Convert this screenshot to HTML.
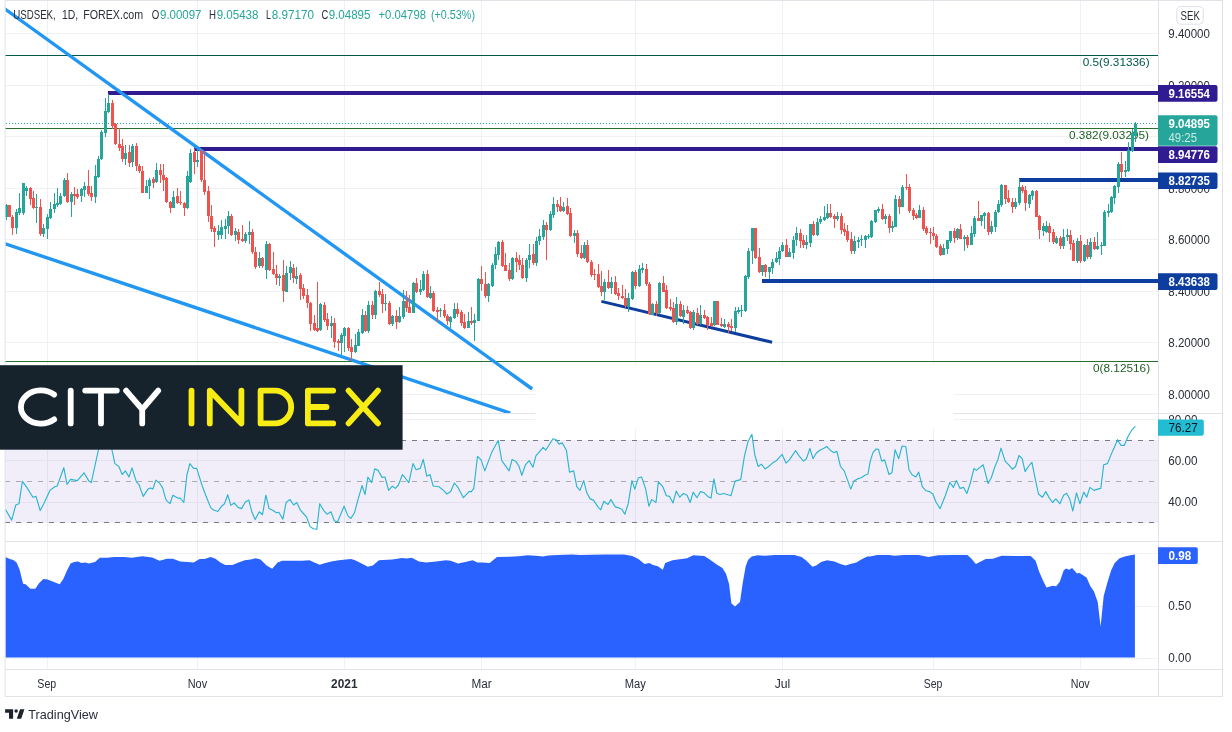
<!DOCTYPE html>
<html><head><meta charset="utf-8"><title>USDSEK</title>
<style>
html,body{margin:0;padding:0;background:#fff;}
body{width:1232px;height:732px;position:relative;overflow:hidden;font-family:"Liberation Sans",sans-serif;color:#131722;}
svg{position:absolute;left:0;top:0;will-change:transform;}
svg text{font-family:"Liberation Sans",sans-serif;}
</style></head><body>
<svg width="1232" height="732" viewBox="0 0 1232 732">
<rect x="47" y="1" width="1" height="668" fill="#f0f1f4"/>
<rect x="197" y="1" width="1" height="668" fill="#f0f1f4"/>
<rect x="344" y="1" width="1" height="668" fill="#f0f1f4"/>
<rect x="481" y="1" width="1" height="668" fill="#f0f1f4"/>
<rect x="635" y="1" width="1" height="668" fill="#f0f1f4"/>
<rect x="782" y="1" width="1" height="668" fill="#f0f1f4"/>
<rect x="933" y="1" width="1" height="668" fill="#f0f1f4"/>
<rect x="1080" y="1" width="1" height="668" fill="#f0f1f4"/>
<rect x="5" y="33" width="1153" height="1" fill="#f0f1f4"/>
<rect x="5" y="85" width="1153" height="1" fill="#f0f1f4"/>
<rect x="5" y="136" width="1153" height="1" fill="#f0f1f4"/>
<rect x="5" y="188" width="1153" height="1" fill="#f0f1f4"/>
<rect x="5" y="239" width="1153" height="1" fill="#f0f1f4"/>
<rect x="5" y="291" width="1153" height="1" fill="#f0f1f4"/>
<rect x="5" y="342" width="1153" height="1" fill="#f0f1f4"/>
<rect x="5" y="394" width="1153" height="1" fill="#f0f1f4"/>
<rect x="5" y="419" width="1153" height="1" fill="#f0f1f4"/>
<rect x="5" y="460" width="1153" height="1" fill="#f0f1f4"/>
<rect x="5" y="502" width="1153" height="1" fill="#f0f1f4"/>
<rect x="5" y="553" width="1153" height="1" fill="#f0f1f4"/>
<rect x="5" y="606" width="1153" height="1" fill="#f0f1f4"/>
<rect x="5" y="658" width="1153" height="1" fill="#f0f1f4"/>
<rect x="5" y="440" width="1153" height="83" fill="#7e57c2" fill-opacity="0.1"/>
<line x1="5" y1="440.5" x2="1158" y2="440.5" stroke="#787b86" stroke-width="1.2" stroke-dasharray="5 6"/>
<line x1="5" y1="481.5" x2="1158" y2="481.5" stroke="#a9abb3" stroke-width="1.2" stroke-dasharray="5 6"/>
<line x1="5" y1="522.5" x2="1158" y2="522.5" stroke="#787b86" stroke-width="1.2" stroke-dasharray="5 6"/>
<rect x="5" y="55" width="1153" height="1" fill="#00594a"/>
<rect x="5" y="128" width="1153" height="1" fill="#2a6e2e"/>
<rect x="5" y="361" width="1153" height="1" fill="#2a6e2e"/>
<text x="1082.7" y="65.8" font-size="11.8" fill="#00594a">0.5(9.31336)</text>
<text x="1069" y="138.6" font-size="11.8" fill="#1f5f25">0.382(9.03295)</text>
<text x="1093" y="371.9" font-size="11.8" fill="#1f5f25">0(8.12516)</text>
<line x1="6" y1="123.5" x2="1159" y2="123.5" stroke="#26a69a" stroke-width="1" stroke-dasharray="1 2"/>
<rect x="108" y="91" width="1051" height="4" fill="#311b92"/>
<rect x="194.2" y="147" width="965" height="4" fill="#311b92"/>
<rect x="1019" y="178" width="140" height="4" fill="#0d3d9e"/>
<rect x="762" y="279" width="397" height="4" fill="#0d3d9e"/>
<line x1="601.4" y1="301.4" x2="772.1" y2="342.3" stroke="#0d3d9e" stroke-width="3" stroke-linecap="butt"/>
<clipPath id="cp"><rect x="5.4" y="1" width="1153" height="412"/></clipPath>
<g clip-path="url(#cp)"><line x1="2.5" y1="7.2" x2="532.2" y2="389" stroke="#2196f3" stroke-width="3.4" stroke-linecap="butt"/>
<line x1="2" y1="242.75" x2="510.3" y2="413.1" stroke="#2196f3" stroke-width="3.4" stroke-linecap="butt"/></g>
<rect x="6" y="204" width="1" height="16" fill="#26a69a"/>
<rect x="5" y="205" width="3" height="12" fill="#26a69a"/>
<rect x="9" y="205" width="1" height="12" fill="#ef5350"/>
<rect x="8" y="205" width="3" height="12" fill="#ef5350"/>
<rect x="12" y="215" width="1" height="20" fill="#ef5350"/>
<rect x="11" y="217" width="3" height="11" fill="#ef5350"/>
<rect x="16" y="209" width="1" height="25" fill="#26a69a"/>
<rect x="15" y="212" width="3" height="16" fill="#26a69a"/>
<rect x="19" y="193" width="1" height="22" fill="#26a69a"/>
<rect x="18" y="208" width="3" height="5" fill="#26a69a"/>
<rect x="23" y="183" width="1" height="32" fill="#26a69a"/>
<rect x="22" y="183" width="3" height="30" fill="#26a69a"/>
<rect x="26" y="186" width="1" height="10" fill="#26a69a"/>
<rect x="25" y="188" width="3" height="3" fill="#26a69a"/>
<rect x="30" y="187" width="1" height="18" fill="#ef5350"/>
<rect x="29" y="188" width="3" height="11" fill="#ef5350"/>
<rect x="33" y="191" width="1" height="18" fill="#ef5350"/>
<rect x="32" y="198" width="3" height="10" fill="#ef5350"/>
<rect x="36" y="194" width="1" height="29" fill="#26a69a"/>
<rect x="35" y="207" width="3" height="1" fill="#26a69a"/>
<rect x="40" y="199" width="1" height="37" fill="#ef5350"/>
<rect x="39" y="207" width="3" height="27" fill="#ef5350"/>
<rect x="43" y="224" width="1" height="13" fill="#26a69a"/>
<rect x="42" y="228" width="3" height="6" fill="#26a69a"/>
<rect x="47" y="214" width="1" height="25" fill="#26a69a"/>
<rect x="46" y="217" width="3" height="12" fill="#26a69a"/>
<rect x="50" y="202" width="1" height="17" fill="#26a69a"/>
<rect x="49" y="209" width="3" height="9" fill="#26a69a"/>
<rect x="54" y="193" width="1" height="20" fill="#26a69a"/>
<rect x="53" y="204" width="3" height="5" fill="#26a69a"/>
<rect x="57" y="188" width="1" height="19" fill="#26a69a"/>
<rect x="56" y="203" width="3" height="2" fill="#26a69a"/>
<rect x="60" y="193" width="1" height="12" fill="#26a69a"/>
<rect x="59" y="196" width="3" height="8" fill="#26a69a"/>
<rect x="64" y="178" width="1" height="19" fill="#26a69a"/>
<rect x="63" y="180" width="3" height="16" fill="#26a69a"/>
<rect x="67" y="173" width="1" height="30" fill="#ef5350"/>
<rect x="66" y="180" width="3" height="22" fill="#ef5350"/>
<rect x="71" y="192" width="1" height="25" fill="#26a69a"/>
<rect x="70" y="194" width="3" height="8" fill="#26a69a"/>
<rect x="74" y="187" width="1" height="18" fill="#ef5350"/>
<rect x="73" y="194" width="3" height="2" fill="#ef5350"/>
<rect x="77" y="189" width="1" height="10" fill="#ef5350"/>
<rect x="76" y="194" width="3" height="3" fill="#ef5350"/>
<rect x="81" y="188" width="1" height="14" fill="#26a69a"/>
<rect x="80" y="189" width="3" height="7" fill="#26a69a"/>
<rect x="84" y="182" width="1" height="15" fill="#26a69a"/>
<rect x="83" y="186" width="3" height="4" fill="#26a69a"/>
<rect x="88" y="170" width="1" height="26" fill="#ef5350"/>
<rect x="87" y="186" width="3" height="8" fill="#ef5350"/>
<rect x="91" y="186" width="1" height="15" fill="#ef5350"/>
<rect x="90" y="193" width="3" height="4" fill="#ef5350"/>
<rect x="95" y="165" width="1" height="38" fill="#26a69a"/>
<rect x="94" y="176" width="3" height="21" fill="#26a69a"/>
<rect x="98" y="156" width="1" height="22" fill="#26a69a"/>
<rect x="97" y="159" width="3" height="18" fill="#26a69a"/>
<rect x="101" y="130" width="1" height="30" fill="#26a69a"/>
<rect x="100" y="132" width="3" height="27" fill="#26a69a"/>
<rect x="105" y="98" width="1" height="39" fill="#26a69a"/>
<rect x="104" y="111" width="3" height="22" fill="#26a69a"/>
<rect x="108" y="94" width="1" height="19" fill="#26a69a"/>
<rect x="107" y="103" width="3" height="9" fill="#26a69a"/>
<rect x="112" y="100" width="1" height="29" fill="#ef5350"/>
<rect x="111" y="103" width="3" height="23" fill="#ef5350"/>
<rect x="115" y="123" width="1" height="22" fill="#ef5350"/>
<rect x="114" y="124" width="3" height="20" fill="#ef5350"/>
<rect x="119" y="128" width="1" height="23" fill="#ef5350"/>
<rect x="118" y="144" width="3" height="4" fill="#ef5350"/>
<rect x="122" y="139" width="1" height="23" fill="#ef5350"/>
<rect x="121" y="146" width="3" height="13" fill="#ef5350"/>
<rect x="125" y="145" width="1" height="20" fill="#26a69a"/>
<rect x="124" y="153" width="3" height="6" fill="#26a69a"/>
<rect x="129" y="145" width="1" height="22" fill="#ef5350"/>
<rect x="128" y="152" width="3" height="11" fill="#ef5350"/>
<rect x="132" y="144" width="1" height="23" fill="#26a69a"/>
<rect x="131" y="146" width="3" height="16" fill="#26a69a"/>
<rect x="136" y="143" width="1" height="28" fill="#ef5350"/>
<rect x="135" y="146" width="3" height="20" fill="#ef5350"/>
<rect x="139" y="164" width="1" height="9" fill="#ef5350"/>
<rect x="138" y="166" width="3" height="5" fill="#ef5350"/>
<rect x="142" y="166" width="1" height="27" fill="#ef5350"/>
<rect x="141" y="171" width="3" height="22" fill="#ef5350"/>
<rect x="146" y="180" width="1" height="13" fill="#26a69a"/>
<rect x="145" y="186" width="3" height="7" fill="#26a69a"/>
<rect x="149" y="178" width="1" height="21" fill="#26a69a"/>
<rect x="148" y="180" width="3" height="6" fill="#26a69a"/>
<rect x="153" y="177" width="1" height="11" fill="#ef5350"/>
<rect x="152" y="179" width="3" height="4" fill="#ef5350"/>
<rect x="156" y="163" width="1" height="20" fill="#26a69a"/>
<rect x="155" y="170" width="3" height="12" fill="#26a69a"/>
<rect x="160" y="164" width="1" height="19" fill="#ef5350"/>
<rect x="159" y="170" width="3" height="5" fill="#ef5350"/>
<rect x="163" y="164" width="1" height="27" fill="#ef5350"/>
<rect x="162" y="175" width="3" height="5" fill="#ef5350"/>
<rect x="166" y="177" width="1" height="26" fill="#ef5350"/>
<rect x="165" y="178" width="3" height="24" fill="#ef5350"/>
<rect x="170" y="201" width="1" height="12" fill="#ef5350"/>
<rect x="169" y="202" width="3" height="6" fill="#ef5350"/>
<rect x="173" y="191" width="1" height="17" fill="#26a69a"/>
<rect x="172" y="197" width="3" height="11" fill="#26a69a"/>
<rect x="177" y="188" width="1" height="16" fill="#ef5350"/>
<rect x="176" y="196" width="3" height="7" fill="#ef5350"/>
<rect x="180" y="191" width="1" height="14" fill="#ef5350"/>
<rect x="179" y="202" width="3" height="1" fill="#ef5350"/>
<rect x="184" y="202" width="1" height="14" fill="#ef5350"/>
<rect x="183" y="203" width="3" height="5" fill="#ef5350"/>
<rect x="187" y="171" width="1" height="38" fill="#26a69a"/>
<rect x="186" y="176" width="3" height="32" fill="#26a69a"/>
<rect x="190" y="149" width="1" height="34" fill="#26a69a"/>
<rect x="189" y="153" width="3" height="29" fill="#26a69a"/>
<rect x="194" y="149" width="1" height="25" fill="#ef5350"/>
<rect x="193" y="152" width="3" height="10" fill="#ef5350"/>
<rect x="197" y="149" width="1" height="18" fill="#26a69a"/>
<rect x="196" y="160" width="3" height="2" fill="#26a69a"/>
<rect x="201" y="149" width="1" height="33" fill="#ef5350"/>
<rect x="200" y="151" width="3" height="29" fill="#ef5350"/>
<rect x="204" y="151" width="1" height="44" fill="#ef5350"/>
<rect x="203" y="180" width="3" height="12" fill="#ef5350"/>
<rect x="208" y="186" width="1" height="36" fill="#ef5350"/>
<rect x="207" y="191" width="3" height="25" fill="#ef5350"/>
<rect x="211" y="205" width="1" height="27" fill="#ef5350"/>
<rect x="210" y="216" width="3" height="13" fill="#ef5350"/>
<rect x="214" y="226" width="1" height="21" fill="#ef5350"/>
<rect x="213" y="228" width="3" height="4" fill="#ef5350"/>
<rect x="218" y="225" width="1" height="15" fill="#26a69a"/>
<rect x="217" y="231" width="3" height="4" fill="#26a69a"/>
<rect x="221" y="220" width="1" height="19" fill="#26a69a"/>
<rect x="220" y="227" width="3" height="8" fill="#26a69a"/>
<rect x="225" y="219" width="1" height="20" fill="#26a69a"/>
<rect x="224" y="226" width="3" height="3" fill="#26a69a"/>
<rect x="228" y="211" width="1" height="23" fill="#26a69a"/>
<rect x="227" y="216" width="3" height="10" fill="#26a69a"/>
<rect x="231" y="214" width="1" height="22" fill="#ef5350"/>
<rect x="230" y="216" width="3" height="19" fill="#ef5350"/>
<rect x="235" y="228" width="1" height="13" fill="#26a69a"/>
<rect x="234" y="231" width="3" height="4" fill="#26a69a"/>
<rect x="238" y="229" width="1" height="15" fill="#ef5350"/>
<rect x="237" y="232" width="3" height="8" fill="#ef5350"/>
<rect x="242" y="225" width="1" height="17" fill="#ef5350"/>
<rect x="241" y="239" width="3" height="2" fill="#ef5350"/>
<rect x="245" y="232" width="1" height="11" fill="#26a69a"/>
<rect x="244" y="234" width="3" height="7" fill="#26a69a"/>
<rect x="249" y="221" width="1" height="23" fill="#26a69a"/>
<rect x="248" y="232" width="3" height="3" fill="#26a69a"/>
<rect x="252" y="229" width="1" height="25" fill="#ef5350"/>
<rect x="251" y="232" width="3" height="20" fill="#ef5350"/>
<rect x="255" y="247" width="1" height="22" fill="#ef5350"/>
<rect x="254" y="252" width="3" height="15" fill="#ef5350"/>
<rect x="259" y="252" width="1" height="16" fill="#26a69a"/>
<rect x="258" y="258" width="3" height="8" fill="#26a69a"/>
<rect x="262" y="257" width="1" height="11" fill="#ef5350"/>
<rect x="261" y="258" width="3" height="8" fill="#ef5350"/>
<rect x="266" y="241" width="1" height="38" fill="#26a69a"/>
<rect x="265" y="244" width="3" height="26" fill="#26a69a"/>
<rect x="269" y="243" width="1" height="28" fill="#ef5350"/>
<rect x="268" y="244" width="3" height="26" fill="#ef5350"/>
<rect x="273" y="252" width="1" height="23" fill="#ef5350"/>
<rect x="272" y="269" width="3" height="5" fill="#ef5350"/>
<rect x="276" y="265" width="1" height="20" fill="#ef5350"/>
<rect x="275" y="274" width="3" height="4" fill="#ef5350"/>
<rect x="279" y="274" width="1" height="12" fill="#26a69a"/>
<rect x="278" y="276" width="3" height="2" fill="#26a69a"/>
<rect x="283" y="260" width="1" height="42" fill="#ef5350"/>
<rect x="282" y="275" width="3" height="16" fill="#ef5350"/>
<rect x="286" y="266" width="1" height="26" fill="#26a69a"/>
<rect x="285" y="273" width="3" height="19" fill="#26a69a"/>
<rect x="290" y="261" width="1" height="19" fill="#26a69a"/>
<rect x="289" y="267" width="3" height="6" fill="#26a69a"/>
<rect x="293" y="264" width="1" height="19" fill="#ef5350"/>
<rect x="292" y="268" width="3" height="10" fill="#ef5350"/>
<rect x="296" y="267" width="1" height="17" fill="#26a69a"/>
<rect x="295" y="276" width="3" height="3" fill="#26a69a"/>
<rect x="300" y="273" width="1" height="27" fill="#ef5350"/>
<rect x="299" y="275" width="3" height="14" fill="#ef5350"/>
<rect x="303" y="284" width="1" height="15" fill="#ef5350"/>
<rect x="302" y="288" width="3" height="8" fill="#ef5350"/>
<rect x="307" y="289" width="1" height="19" fill="#ef5350"/>
<rect x="306" y="295" width="3" height="8" fill="#ef5350"/>
<rect x="310" y="302" width="1" height="29" fill="#ef5350"/>
<rect x="309" y="303" width="3" height="21" fill="#ef5350"/>
<rect x="314" y="315" width="1" height="16" fill="#ef5350"/>
<rect x="313" y="323" width="3" height="7" fill="#ef5350"/>
<rect x="317" y="282" width="1" height="50" fill="#ef5350"/>
<rect x="316" y="328" width="3" height="3" fill="#ef5350"/>
<rect x="320" y="303" width="1" height="28" fill="#26a69a"/>
<rect x="319" y="304" width="3" height="26" fill="#26a69a"/>
<rect x="324" y="302" width="1" height="20" fill="#ef5350"/>
<rect x="323" y="305" width="3" height="15" fill="#ef5350"/>
<rect x="327" y="313" width="1" height="17" fill="#ef5350"/>
<rect x="326" y="319" width="3" height="7" fill="#ef5350"/>
<rect x="331" y="316" width="1" height="22" fill="#26a69a"/>
<rect x="330" y="323" width="3" height="3" fill="#26a69a"/>
<rect x="334" y="318" width="1" height="30" fill="#ef5350"/>
<rect x="333" y="323" width="3" height="19" fill="#ef5350"/>
<rect x="338" y="339" width="1" height="12" fill="#ef5350"/>
<rect x="337" y="341" width="3" height="2" fill="#ef5350"/>
<rect x="341" y="333" width="1" height="22" fill="#26a69a"/>
<rect x="340" y="335" width="3" height="8" fill="#26a69a"/>
<rect x="344" y="327" width="1" height="25" fill="#26a69a"/>
<rect x="343" y="328" width="3" height="8" fill="#26a69a"/>
<rect x="348" y="327" width="1" height="24" fill="#ef5350"/>
<rect x="347" y="328" width="3" height="20" fill="#ef5350"/>
<rect x="351" y="339" width="1" height="22" fill="#ef5350"/>
<rect x="350" y="347" width="3" height="5" fill="#ef5350"/>
<rect x="355" y="334" width="1" height="19" fill="#26a69a"/>
<rect x="354" y="345" width="3" height="7" fill="#26a69a"/>
<rect x="358" y="329" width="1" height="17" fill="#26a69a"/>
<rect x="357" y="332" width="3" height="14" fill="#26a69a"/>
<rect x="362" y="309" width="1" height="25" fill="#26a69a"/>
<rect x="361" y="315" width="3" height="18" fill="#26a69a"/>
<rect x="365" y="311" width="1" height="21" fill="#ef5350"/>
<rect x="364" y="315" width="3" height="16" fill="#ef5350"/>
<rect x="368" y="301" width="1" height="32" fill="#26a69a"/>
<rect x="367" y="305" width="3" height="26" fill="#26a69a"/>
<rect x="372" y="301" width="1" height="18" fill="#ef5350"/>
<rect x="371" y="305" width="3" height="10" fill="#ef5350"/>
<rect x="375" y="290" width="1" height="29" fill="#26a69a"/>
<rect x="374" y="291" width="3" height="24" fill="#26a69a"/>
<rect x="379" y="282" width="1" height="15" fill="#ef5350"/>
<rect x="378" y="291" width="3" height="4" fill="#ef5350"/>
<rect x="382" y="289" width="1" height="24" fill="#ef5350"/>
<rect x="381" y="294" width="3" height="10" fill="#ef5350"/>
<rect x="385" y="294" width="1" height="17" fill="#26a69a"/>
<rect x="384" y="303" width="3" height="1" fill="#26a69a"/>
<rect x="389" y="301" width="1" height="24" fill="#ef5350"/>
<rect x="388" y="303" width="3" height="21" fill="#ef5350"/>
<rect x="392" y="315" width="1" height="11" fill="#26a69a"/>
<rect x="391" y="316" width="3" height="8" fill="#26a69a"/>
<rect x="396" y="310" width="1" height="19" fill="#ef5350"/>
<rect x="395" y="316" width="3" height="6" fill="#ef5350"/>
<rect x="399" y="307" width="1" height="16" fill="#26a69a"/>
<rect x="398" y="316" width="3" height="6" fill="#26a69a"/>
<rect x="403" y="290" width="1" height="29" fill="#26a69a"/>
<rect x="402" y="301" width="3" height="16" fill="#26a69a"/>
<rect x="406" y="291" width="1" height="21" fill="#ef5350"/>
<rect x="405" y="301" width="3" height="7" fill="#ef5350"/>
<rect x="409" y="295" width="1" height="18" fill="#ef5350"/>
<rect x="408" y="307" width="3" height="6" fill="#ef5350"/>
<rect x="413" y="282" width="1" height="31" fill="#26a69a"/>
<rect x="412" y="283" width="3" height="30" fill="#26a69a"/>
<rect x="416" y="278" width="1" height="15" fill="#ef5350"/>
<rect x="415" y="283" width="3" height="9" fill="#ef5350"/>
<rect x="420" y="280" width="1" height="15" fill="#26a69a"/>
<rect x="419" y="289" width="3" height="3" fill="#26a69a"/>
<rect x="423" y="271" width="1" height="20" fill="#26a69a"/>
<rect x="422" y="274" width="3" height="16" fill="#26a69a"/>
<rect x="427" y="270" width="1" height="28" fill="#ef5350"/>
<rect x="426" y="274" width="3" height="23" fill="#ef5350"/>
<rect x="430" y="286" width="1" height="13" fill="#26a69a"/>
<rect x="429" y="293" width="3" height="5" fill="#26a69a"/>
<rect x="433" y="291" width="1" height="21" fill="#ef5350"/>
<rect x="432" y="293" width="3" height="18" fill="#ef5350"/>
<rect x="437" y="307" width="1" height="15" fill="#ef5350"/>
<rect x="436" y="310" width="3" height="2" fill="#ef5350"/>
<rect x="440" y="308" width="1" height="9" fill="#26a69a"/>
<rect x="439" y="310" width="3" height="1" fill="#26a69a"/>
<rect x="444" y="304" width="1" height="14" fill="#ef5350"/>
<rect x="443" y="310" width="3" height="6" fill="#ef5350"/>
<rect x="447" y="314" width="1" height="11" fill="#ef5350"/>
<rect x="446" y="316" width="3" height="5" fill="#ef5350"/>
<rect x="450" y="316" width="1" height="12" fill="#26a69a"/>
<rect x="449" y="317" width="3" height="5" fill="#26a69a"/>
<rect x="454" y="303" width="1" height="16" fill="#26a69a"/>
<rect x="453" y="309" width="3" height="9" fill="#26a69a"/>
<rect x="457" y="303" width="1" height="14" fill="#ef5350"/>
<rect x="456" y="309" width="3" height="5" fill="#ef5350"/>
<rect x="461" y="310" width="1" height="16" fill="#ef5350"/>
<rect x="460" y="312" width="3" height="11" fill="#ef5350"/>
<rect x="464" y="314" width="1" height="15" fill="#ef5350"/>
<rect x="463" y="322" width="3" height="6" fill="#ef5350"/>
<rect x="468" y="312" width="1" height="16" fill="#26a69a"/>
<rect x="467" y="321" width="3" height="7" fill="#26a69a"/>
<rect x="471" y="307" width="1" height="18" fill="#ef5350"/>
<rect x="470" y="321" width="3" height="2" fill="#ef5350"/>
<rect x="474" y="314" width="1" height="27" fill="#26a69a"/>
<rect x="473" y="320" width="3" height="3" fill="#26a69a"/>
<rect x="478" y="278" width="1" height="43" fill="#26a69a"/>
<rect x="477" y="279" width="3" height="42" fill="#26a69a"/>
<rect x="481" y="266" width="1" height="25" fill="#ef5350"/>
<rect x="480" y="279" width="3" height="5" fill="#ef5350"/>
<rect x="485" y="272" width="1" height="26" fill="#ef5350"/>
<rect x="484" y="284" width="3" height="12" fill="#ef5350"/>
<rect x="488" y="283" width="1" height="19" fill="#26a69a"/>
<rect x="487" y="284" width="3" height="12" fill="#26a69a"/>
<rect x="492" y="263" width="1" height="24" fill="#26a69a"/>
<rect x="491" y="265" width="3" height="21" fill="#26a69a"/>
<rect x="495" y="247" width="1" height="22" fill="#26a69a"/>
<rect x="494" y="254" width="3" height="11" fill="#26a69a"/>
<rect x="498" y="241" width="1" height="19" fill="#26a69a"/>
<rect x="497" y="242" width="3" height="13" fill="#26a69a"/>
<rect x="502" y="240" width="1" height="27" fill="#ef5350"/>
<rect x="501" y="242" width="3" height="24" fill="#ef5350"/>
<rect x="505" y="253" width="1" height="18" fill="#ef5350"/>
<rect x="504" y="265" width="3" height="6" fill="#ef5350"/>
<rect x="509" y="263" width="1" height="18" fill="#ef5350"/>
<rect x="508" y="270" width="3" height="9" fill="#ef5350"/>
<rect x="512" y="257" width="1" height="23" fill="#26a69a"/>
<rect x="511" y="258" width="3" height="21" fill="#26a69a"/>
<rect x="516" y="252" width="1" height="20" fill="#ef5350"/>
<rect x="515" y="258" width="3" height="4" fill="#ef5350"/>
<rect x="519" y="255" width="1" height="15" fill="#ef5350"/>
<rect x="518" y="260" width="3" height="5" fill="#ef5350"/>
<rect x="522" y="258" width="1" height="21" fill="#ef5350"/>
<rect x="521" y="265" width="3" height="13" fill="#ef5350"/>
<rect x="526" y="258" width="1" height="24" fill="#26a69a"/>
<rect x="525" y="260" width="3" height="18" fill="#26a69a"/>
<rect x="529" y="244" width="1" height="24" fill="#26a69a"/>
<rect x="528" y="255" width="3" height="5" fill="#26a69a"/>
<rect x="533" y="244" width="1" height="21" fill="#ef5350"/>
<rect x="532" y="254" width="3" height="9" fill="#ef5350"/>
<rect x="536" y="237" width="1" height="29" fill="#26a69a"/>
<rect x="535" y="241" width="3" height="22" fill="#26a69a"/>
<rect x="539" y="229" width="1" height="16" fill="#26a69a"/>
<rect x="538" y="236" width="3" height="5" fill="#26a69a"/>
<rect x="543" y="220" width="1" height="20" fill="#26a69a"/>
<rect x="542" y="225" width="3" height="12" fill="#26a69a"/>
<rect x="546" y="222" width="1" height="38" fill="#ef5350"/>
<rect x="545" y="225" width="3" height="5" fill="#ef5350"/>
<rect x="550" y="211" width="1" height="20" fill="#26a69a"/>
<rect x="549" y="214" width="3" height="16" fill="#26a69a"/>
<rect x="553" y="197" width="1" height="21" fill="#26a69a"/>
<rect x="552" y="204" width="3" height="11" fill="#26a69a"/>
<rect x="557" y="200" width="1" height="12" fill="#ef5350"/>
<rect x="556" y="204" width="3" height="3" fill="#ef5350"/>
<rect x="560" y="197" width="1" height="15" fill="#ef5350"/>
<rect x="559" y="206" width="3" height="5" fill="#ef5350"/>
<rect x="563" y="202" width="1" height="10" fill="#26a69a"/>
<rect x="562" y="207" width="3" height="4" fill="#26a69a"/>
<rect x="567" y="198" width="1" height="17" fill="#ef5350"/>
<rect x="566" y="206" width="3" height="8" fill="#ef5350"/>
<rect x="570" y="208" width="1" height="29" fill="#ef5350"/>
<rect x="569" y="213" width="3" height="23" fill="#ef5350"/>
<rect x="574" y="230" width="1" height="13" fill="#26a69a"/>
<rect x="573" y="233" width="3" height="3" fill="#26a69a"/>
<rect x="577" y="230" width="1" height="27" fill="#ef5350"/>
<rect x="576" y="233" width="3" height="21" fill="#ef5350"/>
<rect x="581" y="245" width="1" height="14" fill="#ef5350"/>
<rect x="580" y="253" width="3" height="5" fill="#ef5350"/>
<rect x="584" y="242" width="1" height="17" fill="#26a69a"/>
<rect x="583" y="245" width="3" height="13" fill="#26a69a"/>
<rect x="587" y="240" width="1" height="23" fill="#ef5350"/>
<rect x="586" y="245" width="3" height="17" fill="#ef5350"/>
<rect x="591" y="260" width="1" height="17" fill="#ef5350"/>
<rect x="590" y="262" width="3" height="13" fill="#ef5350"/>
<rect x="594" y="269" width="1" height="11" fill="#ef5350"/>
<rect x="593" y="274" width="3" height="1" fill="#ef5350"/>
<rect x="598" y="264" width="1" height="24" fill="#ef5350"/>
<rect x="597" y="274" width="3" height="13" fill="#ef5350"/>
<rect x="601" y="271" width="1" height="25" fill="#ef5350"/>
<rect x="600" y="286" width="3" height="6" fill="#ef5350"/>
<rect x="604" y="279" width="1" height="21" fill="#26a69a"/>
<rect x="603" y="282" width="3" height="10" fill="#26a69a"/>
<rect x="608" y="270" width="1" height="19" fill="#ef5350"/>
<rect x="607" y="282" width="3" height="6" fill="#ef5350"/>
<rect x="611" y="277" width="1" height="17" fill="#26a69a"/>
<rect x="610" y="282" width="3" height="6" fill="#26a69a"/>
<rect x="615" y="276" width="1" height="19" fill="#ef5350"/>
<rect x="614" y="282" width="3" height="12" fill="#ef5350"/>
<rect x="618" y="288" width="1" height="12" fill="#ef5350"/>
<rect x="617" y="293" width="3" height="3" fill="#ef5350"/>
<rect x="622" y="285" width="1" height="14" fill="#ef5350"/>
<rect x="621" y="296" width="3" height="2" fill="#ef5350"/>
<rect x="625" y="289" width="1" height="19" fill="#ef5350"/>
<rect x="624" y="298" width="3" height="8" fill="#ef5350"/>
<rect x="628" y="293" width="1" height="19" fill="#26a69a"/>
<rect x="627" y="298" width="3" height="9" fill="#26a69a"/>
<rect x="632" y="271" width="1" height="29" fill="#26a69a"/>
<rect x="631" y="272" width="3" height="27" fill="#26a69a"/>
<rect x="635" y="270" width="1" height="19" fill="#ef5350"/>
<rect x="634" y="272" width="3" height="14" fill="#ef5350"/>
<rect x="639" y="265" width="1" height="22" fill="#26a69a"/>
<rect x="638" y="269" width="3" height="17" fill="#26a69a"/>
<rect x="642" y="263" width="1" height="10" fill="#26a69a"/>
<rect x="641" y="268" width="3" height="2" fill="#26a69a"/>
<rect x="646" y="264" width="1" height="22" fill="#ef5350"/>
<rect x="645" y="269" width="3" height="15" fill="#ef5350"/>
<rect x="649" y="282" width="1" height="33" fill="#ef5350"/>
<rect x="648" y="284" width="3" height="30" fill="#ef5350"/>
<rect x="652" y="303" width="1" height="12" fill="#26a69a"/>
<rect x="651" y="304" width="3" height="11" fill="#26a69a"/>
<rect x="656" y="301" width="1" height="15" fill="#ef5350"/>
<rect x="655" y="304" width="3" height="9" fill="#ef5350"/>
<rect x="659" y="282" width="1" height="32" fill="#26a69a"/>
<rect x="658" y="283" width="3" height="30" fill="#26a69a"/>
<rect x="663" y="276" width="1" height="16" fill="#ef5350"/>
<rect x="662" y="283" width="3" height="9" fill="#ef5350"/>
<rect x="666" y="285" width="1" height="24" fill="#ef5350"/>
<rect x="665" y="290" width="3" height="18" fill="#ef5350"/>
<rect x="670" y="299" width="1" height="12" fill="#ef5350"/>
<rect x="669" y="307" width="3" height="2" fill="#ef5350"/>
<rect x="673" y="302" width="1" height="21" fill="#ef5350"/>
<rect x="672" y="308" width="3" height="14" fill="#ef5350"/>
<rect x="676" y="297" width="1" height="28" fill="#26a69a"/>
<rect x="675" y="304" width="3" height="18" fill="#26a69a"/>
<rect x="680" y="301" width="1" height="16" fill="#ef5350"/>
<rect x="679" y="304" width="3" height="12" fill="#ef5350"/>
<rect x="683" y="305" width="1" height="19" fill="#26a69a"/>
<rect x="682" y="310" width="3" height="7" fill="#26a69a"/>
<rect x="687" y="306" width="1" height="8" fill="#ef5350"/>
<rect x="686" y="310" width="3" height="3" fill="#ef5350"/>
<rect x="690" y="311" width="1" height="18" fill="#ef5350"/>
<rect x="689" y="312" width="3" height="16" fill="#ef5350"/>
<rect x="693" y="310" width="1" height="20" fill="#26a69a"/>
<rect x="692" y="312" width="3" height="16" fill="#26a69a"/>
<rect x="697" y="308" width="1" height="17" fill="#ef5350"/>
<rect x="696" y="313" width="3" height="11" fill="#ef5350"/>
<rect x="700" y="305" width="1" height="20" fill="#26a69a"/>
<rect x="699" y="315" width="3" height="9" fill="#26a69a"/>
<rect x="704" y="310" width="1" height="9" fill="#ef5350"/>
<rect x="703" y="315" width="3" height="3" fill="#ef5350"/>
<rect x="707" y="316" width="1" height="14" fill="#ef5350"/>
<rect x="706" y="317" width="3" height="8" fill="#ef5350"/>
<rect x="711" y="317" width="1" height="10" fill="#ef5350"/>
<rect x="710" y="323" width="3" height="3" fill="#ef5350"/>
<rect x="714" y="301" width="1" height="25" fill="#26a69a"/>
<rect x="713" y="301" width="3" height="24" fill="#26a69a"/>
<rect x="717" y="301" width="1" height="24" fill="#ef5350"/>
<rect x="716" y="301" width="3" height="24" fill="#ef5350"/>
<rect x="721" y="318" width="1" height="9" fill="#ef5350"/>
<rect x="720" y="324" width="3" height="2" fill="#ef5350"/>
<rect x="724" y="319" width="1" height="9" fill="#26a69a"/>
<rect x="723" y="324" width="3" height="3" fill="#26a69a"/>
<rect x="728" y="322" width="1" height="11" fill="#ef5350"/>
<rect x="727" y="324" width="3" height="3" fill="#ef5350"/>
<rect x="731" y="319" width="1" height="12" fill="#ef5350"/>
<rect x="730" y="326" width="3" height="2" fill="#ef5350"/>
<rect x="735" y="307" width="1" height="25" fill="#26a69a"/>
<rect x="734" y="311" width="3" height="17" fill="#26a69a"/>
<rect x="738" y="307" width="1" height="7" fill="#26a69a"/>
<rect x="737" y="310" width="3" height="2" fill="#26a69a"/>
<rect x="741" y="305" width="1" height="12" fill="#26a69a"/>
<rect x="740" y="310" width="3" height="1" fill="#26a69a"/>
<rect x="745" y="275" width="1" height="37" fill="#26a69a"/>
<rect x="744" y="276" width="3" height="35" fill="#26a69a"/>
<rect x="748" y="248" width="1" height="31" fill="#26a69a"/>
<rect x="747" y="251" width="3" height="26" fill="#26a69a"/>
<rect x="752" y="228" width="1" height="36" fill="#26a69a"/>
<rect x="751" y="228" width="3" height="23" fill="#26a69a"/>
<rect x="755" y="228" width="1" height="31" fill="#ef5350"/>
<rect x="754" y="228" width="3" height="30" fill="#ef5350"/>
<rect x="759" y="248" width="1" height="25" fill="#ef5350"/>
<rect x="758" y="257" width="3" height="15" fill="#ef5350"/>
<rect x="762" y="265" width="1" height="11" fill="#26a69a"/>
<rect x="761" y="265" width="3" height="7" fill="#26a69a"/>
<rect x="765" y="264" width="1" height="13" fill="#ef5350"/>
<rect x="764" y="265" width="3" height="7" fill="#ef5350"/>
<rect x="769" y="267" width="1" height="12" fill="#26a69a"/>
<rect x="768" y="267" width="3" height="5" fill="#26a69a"/>
<rect x="772" y="259" width="1" height="15" fill="#26a69a"/>
<rect x="771" y="262" width="3" height="6" fill="#26a69a"/>
<rect x="776" y="252" width="1" height="11" fill="#26a69a"/>
<rect x="775" y="258" width="3" height="4" fill="#26a69a"/>
<rect x="779" y="247" width="1" height="18" fill="#26a69a"/>
<rect x="778" y="251" width="3" height="8" fill="#26a69a"/>
<rect x="782" y="242" width="1" height="10" fill="#26a69a"/>
<rect x="781" y="245" width="3" height="6" fill="#26a69a"/>
<rect x="786" y="239" width="1" height="18" fill="#ef5350"/>
<rect x="785" y="245" width="3" height="12" fill="#ef5350"/>
<rect x="789" y="248" width="1" height="9" fill="#26a69a"/>
<rect x="788" y="252" width="3" height="5" fill="#26a69a"/>
<rect x="793" y="236" width="1" height="23" fill="#26a69a"/>
<rect x="792" y="240" width="3" height="13" fill="#26a69a"/>
<rect x="796" y="227" width="1" height="19" fill="#26a69a"/>
<rect x="795" y="233" width="3" height="7" fill="#26a69a"/>
<rect x="800" y="229" width="1" height="19" fill="#ef5350"/>
<rect x="799" y="233" width="3" height="8" fill="#ef5350"/>
<rect x="803" y="235" width="1" height="13" fill="#ef5350"/>
<rect x="802" y="240" width="3" height="5" fill="#ef5350"/>
<rect x="806" y="235" width="1" height="14" fill="#26a69a"/>
<rect x="805" y="242" width="3" height="3" fill="#26a69a"/>
<rect x="810" y="224" width="1" height="23" fill="#26a69a"/>
<rect x="809" y="224" width="3" height="19" fill="#26a69a"/>
<rect x="813" y="221" width="1" height="15" fill="#ef5350"/>
<rect x="812" y="224" width="3" height="11" fill="#ef5350"/>
<rect x="817" y="218" width="1" height="18" fill="#26a69a"/>
<rect x="816" y="222" width="3" height="13" fill="#26a69a"/>
<rect x="820" y="216" width="1" height="8" fill="#26a69a"/>
<rect x="819" y="219" width="3" height="3" fill="#26a69a"/>
<rect x="824" y="206" width="1" height="15" fill="#26a69a"/>
<rect x="823" y="217" width="3" height="3" fill="#26a69a"/>
<rect x="827" y="204" width="1" height="15" fill="#26a69a"/>
<rect x="826" y="213" width="3" height="5" fill="#26a69a"/>
<rect x="830" y="204" width="1" height="14" fill="#ef5350"/>
<rect x="829" y="213" width="3" height="4" fill="#ef5350"/>
<rect x="834" y="214" width="1" height="14" fill="#ef5350"/>
<rect x="833" y="216" width="3" height="3" fill="#ef5350"/>
<rect x="837" y="212" width="1" height="9" fill="#26a69a"/>
<rect x="836" y="216" width="3" height="3" fill="#26a69a"/>
<rect x="841" y="213" width="1" height="21" fill="#ef5350"/>
<rect x="840" y="216" width="3" height="14" fill="#ef5350"/>
<rect x="844" y="223" width="1" height="13" fill="#ef5350"/>
<rect x="843" y="229" width="3" height="3" fill="#ef5350"/>
<rect x="847" y="225" width="1" height="17" fill="#ef5350"/>
<rect x="846" y="231" width="3" height="9" fill="#ef5350"/>
<rect x="851" y="232" width="1" height="22" fill="#ef5350"/>
<rect x="850" y="239" width="3" height="12" fill="#ef5350"/>
<rect x="854" y="236" width="1" height="18" fill="#26a69a"/>
<rect x="853" y="241" width="3" height="10" fill="#26a69a"/>
<rect x="858" y="237" width="1" height="11" fill="#26a69a"/>
<rect x="857" y="240" width="3" height="2" fill="#26a69a"/>
<rect x="861" y="235" width="1" height="11" fill="#26a69a"/>
<rect x="860" y="239" width="3" height="1" fill="#26a69a"/>
<rect x="865" y="235" width="1" height="13" fill="#26a69a"/>
<rect x="864" y="236" width="3" height="4" fill="#26a69a"/>
<rect x="868" y="234" width="1" height="5" fill="#26a69a"/>
<rect x="867" y="236" width="3" height="1" fill="#26a69a"/>
<rect x="871" y="220" width="1" height="18" fill="#26a69a"/>
<rect x="870" y="221" width="3" height="16" fill="#26a69a"/>
<rect x="875" y="210" width="1" height="13" fill="#26a69a"/>
<rect x="874" y="210" width="3" height="12" fill="#26a69a"/>
<rect x="878" y="207" width="1" height="6" fill="#26a69a"/>
<rect x="877" y="209" width="3" height="2" fill="#26a69a"/>
<rect x="882" y="204" width="1" height="16" fill="#ef5350"/>
<rect x="881" y="209" width="3" height="10" fill="#ef5350"/>
<rect x="885" y="214" width="1" height="10" fill="#26a69a"/>
<rect x="884" y="216" width="3" height="3" fill="#26a69a"/>
<rect x="889" y="214" width="1" height="19" fill="#ef5350"/>
<rect x="888" y="216" width="3" height="12" fill="#ef5350"/>
<rect x="892" y="221" width="1" height="11" fill="#26a69a"/>
<rect x="891" y="226" width="3" height="2" fill="#26a69a"/>
<rect x="895" y="195" width="1" height="32" fill="#26a69a"/>
<rect x="894" y="199" width="3" height="28" fill="#26a69a"/>
<rect x="899" y="196" width="1" height="18" fill="#ef5350"/>
<rect x="898" y="199" width="3" height="8" fill="#ef5350"/>
<rect x="902" y="185" width="1" height="22" fill="#26a69a"/>
<rect x="901" y="187" width="3" height="20" fill="#26a69a"/>
<rect x="906" y="174" width="1" height="16" fill="#ef5350"/>
<rect x="905" y="187" width="3" height="1" fill="#ef5350"/>
<rect x="909" y="184" width="1" height="29" fill="#ef5350"/>
<rect x="908" y="187" width="3" height="24" fill="#ef5350"/>
<rect x="913" y="208" width="1" height="12" fill="#ef5350"/>
<rect x="912" y="210" width="3" height="6" fill="#ef5350"/>
<rect x="916" y="213" width="1" height="6" fill="#ef5350"/>
<rect x="915" y="215" width="3" height="3" fill="#ef5350"/>
<rect x="919" y="205" width="1" height="13" fill="#26a69a"/>
<rect x="918" y="210" width="3" height="8" fill="#26a69a"/>
<rect x="923" y="207" width="1" height="24" fill="#ef5350"/>
<rect x="922" y="210" width="3" height="19" fill="#ef5350"/>
<rect x="926" y="226" width="1" height="9" fill="#ef5350"/>
<rect x="925" y="228" width="3" height="5" fill="#ef5350"/>
<rect x="930" y="228" width="1" height="16" fill="#ef5350"/>
<rect x="929" y="232" width="3" height="1" fill="#ef5350"/>
<rect x="933" y="227" width="1" height="13" fill="#ef5350"/>
<rect x="932" y="233" width="3" height="3" fill="#ef5350"/>
<rect x="936" y="234" width="1" height="14" fill="#ef5350"/>
<rect x="935" y="236" width="3" height="11" fill="#ef5350"/>
<rect x="940" y="244" width="1" height="12" fill="#ef5350"/>
<rect x="939" y="246" width="3" height="9" fill="#ef5350"/>
<rect x="943" y="244" width="1" height="11" fill="#26a69a"/>
<rect x="942" y="248" width="3" height="7" fill="#26a69a"/>
<rect x="947" y="240" width="1" height="14" fill="#26a69a"/>
<rect x="946" y="240" width="3" height="9" fill="#26a69a"/>
<rect x="950" y="231" width="1" height="12" fill="#26a69a"/>
<rect x="949" y="231" width="3" height="10" fill="#26a69a"/>
<rect x="954" y="228" width="1" height="15" fill="#ef5350"/>
<rect x="953" y="231" width="3" height="7" fill="#ef5350"/>
<rect x="957" y="228" width="1" height="12" fill="#26a69a"/>
<rect x="956" y="229" width="3" height="9" fill="#26a69a"/>
<rect x="960" y="224" width="1" height="15" fill="#ef5350"/>
<rect x="959" y="229" width="3" height="10" fill="#ef5350"/>
<rect x="964" y="235" width="1" height="16" fill="#26a69a"/>
<rect x="963" y="237" width="3" height="2" fill="#26a69a"/>
<rect x="967" y="235" width="1" height="13" fill="#ef5350"/>
<rect x="966" y="237" width="3" height="8" fill="#ef5350"/>
<rect x="971" y="226" width="1" height="19" fill="#26a69a"/>
<rect x="970" y="233" width="3" height="12" fill="#26a69a"/>
<rect x="974" y="216" width="1" height="21" fill="#26a69a"/>
<rect x="973" y="218" width="3" height="16" fill="#26a69a"/>
<rect x="978" y="201" width="1" height="20" fill="#ef5350"/>
<rect x="977" y="218" width="3" height="3" fill="#ef5350"/>
<rect x="981" y="215" width="1" height="11" fill="#26a69a"/>
<rect x="980" y="215" width="3" height="6" fill="#26a69a"/>
<rect x="984" y="212" width="1" height="17" fill="#26a69a"/>
<rect x="983" y="213" width="3" height="3" fill="#26a69a"/>
<rect x="988" y="212" width="1" height="23" fill="#ef5350"/>
<rect x="987" y="213" width="3" height="19" fill="#ef5350"/>
<rect x="991" y="221" width="1" height="13" fill="#26a69a"/>
<rect x="990" y="226" width="3" height="6" fill="#26a69a"/>
<rect x="995" y="210" width="1" height="22" fill="#26a69a"/>
<rect x="994" y="212" width="3" height="15" fill="#26a69a"/>
<rect x="998" y="200" width="1" height="13" fill="#26a69a"/>
<rect x="997" y="204" width="3" height="8" fill="#26a69a"/>
<rect x="1001" y="184" width="1" height="23" fill="#26a69a"/>
<rect x="1000" y="185" width="3" height="20" fill="#26a69a"/>
<rect x="1005" y="185" width="1" height="19" fill="#ef5350"/>
<rect x="1004" y="185" width="3" height="14" fill="#ef5350"/>
<rect x="1008" y="190" width="1" height="13" fill="#ef5350"/>
<rect x="1007" y="198" width="3" height="4" fill="#ef5350"/>
<rect x="1012" y="198" width="1" height="15" fill="#ef5350"/>
<rect x="1011" y="202" width="3" height="5" fill="#ef5350"/>
<rect x="1015" y="198" width="1" height="11" fill="#26a69a"/>
<rect x="1014" y="202" width="3" height="5" fill="#26a69a"/>
<rect x="1019" y="179" width="1" height="26" fill="#26a69a"/>
<rect x="1018" y="187" width="3" height="16" fill="#26a69a"/>
<rect x="1022" y="185" width="1" height="8" fill="#ef5350"/>
<rect x="1021" y="187" width="3" height="4" fill="#ef5350"/>
<rect x="1025" y="186" width="1" height="25" fill="#ef5350"/>
<rect x="1024" y="190" width="3" height="13" fill="#ef5350"/>
<rect x="1029" y="194" width="1" height="14" fill="#26a69a"/>
<rect x="1028" y="195" width="3" height="9" fill="#26a69a"/>
<rect x="1032" y="190" width="1" height="10" fill="#26a69a"/>
<rect x="1031" y="191" width="3" height="5" fill="#26a69a"/>
<rect x="1036" y="190" width="1" height="27" fill="#ef5350"/>
<rect x="1035" y="191" width="3" height="26" fill="#ef5350"/>
<rect x="1039" y="215" width="1" height="24" fill="#ef5350"/>
<rect x="1038" y="216" width="3" height="14" fill="#ef5350"/>
<rect x="1043" y="223" width="1" height="13" fill="#26a69a"/>
<rect x="1042" y="226" width="3" height="5" fill="#26a69a"/>
<rect x="1046" y="221" width="1" height="12" fill="#26a69a"/>
<rect x="1045" y="226" width="3" height="6" fill="#26a69a"/>
<rect x="1049" y="223" width="1" height="19" fill="#ef5350"/>
<rect x="1048" y="226" width="3" height="7" fill="#ef5350"/>
<rect x="1053" y="229" width="1" height="15" fill="#ef5350"/>
<rect x="1052" y="232" width="3" height="10" fill="#ef5350"/>
<rect x="1056" y="236" width="1" height="8" fill="#26a69a"/>
<rect x="1055" y="238" width="3" height="5" fill="#26a69a"/>
<rect x="1060" y="236" width="1" height="13" fill="#ef5350"/>
<rect x="1059" y="238" width="3" height="8" fill="#ef5350"/>
<rect x="1063" y="229" width="1" height="20" fill="#26a69a"/>
<rect x="1062" y="237" width="3" height="9" fill="#26a69a"/>
<rect x="1067" y="229" width="1" height="12" fill="#26a69a"/>
<rect x="1066" y="235" width="3" height="2" fill="#26a69a"/>
<rect x="1070" y="230" width="1" height="20" fill="#ef5350"/>
<rect x="1069" y="235" width="3" height="9" fill="#ef5350"/>
<rect x="1073" y="240" width="1" height="21" fill="#ef5350"/>
<rect x="1072" y="243" width="3" height="18" fill="#ef5350"/>
<rect x="1077" y="238" width="1" height="25" fill="#26a69a"/>
<rect x="1076" y="241" width="3" height="20" fill="#26a69a"/>
<rect x="1080" y="235" width="1" height="28" fill="#ef5350"/>
<rect x="1079" y="241" width="3" height="20" fill="#ef5350"/>
<rect x="1084" y="244" width="1" height="18" fill="#26a69a"/>
<rect x="1083" y="245" width="3" height="16" fill="#26a69a"/>
<rect x="1087" y="239" width="1" height="20" fill="#ef5350"/>
<rect x="1086" y="245" width="3" height="12" fill="#ef5350"/>
<rect x="1090" y="238" width="1" height="21" fill="#26a69a"/>
<rect x="1089" y="242" width="3" height="15" fill="#26a69a"/>
<rect x="1094" y="237" width="1" height="13" fill="#ef5350"/>
<rect x="1093" y="242" width="3" height="7" fill="#ef5350"/>
<rect x="1097" y="232" width="1" height="18" fill="#26a69a"/>
<rect x="1096" y="246" width="3" height="3" fill="#26a69a"/>
<rect x="1101" y="242" width="1" height="13" fill="#26a69a"/>
<rect x="1100" y="245" width="3" height="1" fill="#26a69a"/>
<rect x="1104" y="210" width="1" height="36" fill="#26a69a"/>
<rect x="1103" y="212" width="3" height="34" fill="#26a69a"/>
<rect x="1108" y="204" width="1" height="13" fill="#26a69a"/>
<rect x="1107" y="211" width="3" height="2" fill="#26a69a"/>
<rect x="1111" y="196" width="1" height="17" fill="#26a69a"/>
<rect x="1110" y="197" width="3" height="15" fill="#26a69a"/>
<rect x="1114" y="185" width="1" height="19" fill="#26a69a"/>
<rect x="1113" y="186" width="3" height="12" fill="#26a69a"/>
<rect x="1118" y="162" width="1" height="31" fill="#26a69a"/>
<rect x="1117" y="164" width="3" height="23" fill="#26a69a"/>
<rect x="1121" y="152" width="1" height="26" fill="#ef5350"/>
<rect x="1120" y="164" width="3" height="8" fill="#ef5350"/>
<rect x="1125" y="161" width="1" height="16" fill="#26a69a"/>
<rect x="1124" y="170" width="3" height="2" fill="#26a69a"/>
<rect x="1128" y="142" width="1" height="30" fill="#26a69a"/>
<rect x="1127" y="150" width="3" height="21" fill="#26a69a"/>
<rect x="1132" y="129" width="1" height="23" fill="#26a69a"/>
<rect x="1131" y="133" width="3" height="18" fill="#26a69a"/>
<rect x="1135" y="122" width="1" height="20" fill="#26a69a"/>
<rect x="1134" y="124" width="3" height="12" fill="#26a69a"/>
<polyline points="5.4,509.3 11.7,520.1 15.8,505.0 19.0,503.7 22.4,481.3 26.8,487.4 32.9,497.2 36.0,496.4 40.2,510.6 43.8,503.7 49.9,490.4 54.8,486.7 57.2,486.0 63.8,467.7 67.0,484.3 70.6,479.4 77.4,480.6 84.0,472.8 88.9,481.1 91.3,482.6 98.6,449.0 102.3,434.3 107.1,433.1 112.0,450.2 114.9,463.6 118.8,466.5 122.2,474.5 125.4,470.9 129.0,477.0 132.0,467.9 136.4,481.8 138.8,484.3 143.2,496.4 148.0,489.1 150.5,487.9 152.9,489.1 155.8,480.1 159.5,483.0 162.6,487.9 166.1,500.1 170.0,503.7 172.9,495.2 177.7,498.1 180.2,498.1 183.8,502.5 187.0,474.5 189.9,463.6 193.6,468.4 196.7,468.4 202.1,485.5 205.7,495.2 210.6,507.4 213.1,509.8 217.9,511.5 221.6,506.2 224.5,503.7 227.7,494.7 230.8,505.4 234.2,503.0 238.1,507.4 241.5,508.6 245.4,502.0 248.8,500.1 252.0,512.3 255.2,519.6 259.3,511.8 262.5,514.7 265.9,495.2 269.1,508.6 272.7,510.3 276.4,512.8 278.8,512.3 282.9,519.1 286.1,502.5 289.7,499.6 290.0,499.6 293.7,505.0 296.8,502.5 300.2,509.8 303.4,513.5 306.6,517.1 310.0,526.4 313.1,528.8 316.8,529.3 319.7,503.7 323.6,510.3 327.0,514.2 330.9,511.8 334.3,520.8 337.5,522.0 344.1,506.2 347.9,515.9 350.9,518.4 354.5,512.8 358.2,498.9 362.1,485.5 365.0,494.7 367.9,477.0 371.6,482.6 374.7,468.9 378.1,470.4 382.0,477.4 385.0,477.0 388.6,490.4 392.3,486.2 395.4,488.4 398.4,485.0 402.5,474.5 408.8,482.6 413.0,463.6 416.1,469.7 420.3,468.4 423.2,459.4 426.8,476.2 430.0,474.5 433.2,486.0 439.0,486.7 443.4,490.4 447.0,494.0 450.7,491.6 454.4,483.0 458.0,487.4 463.4,497.7 469.0,491.6 471.4,491.6 473.8,488.4 477.5,456.3 481.1,459.9 484.8,470.9 491.6,452.6 498.2,440.4 501.8,460.6 509.1,470.9 512.1,459.4 516.0,461.6 518.9,466.0 521.8,475.3 525.5,464.8 529.1,460.6 533.0,467.2 535.9,455.8 543.2,447.3 545.7,450.2 553.0,438.7 555.9,439.7 559.1,444.1 562.2,442.9 566.4,450.2 569.5,472.1 573.7,470.9 576.8,486.7 580.0,490.4 583.7,480.6 586.8,492.8 590.2,498.9 593.4,500.1 598.3,507.4 600.7,509.8 603.9,501.3 608.0,504.5 610.9,499.6 615.3,506.9 619.0,507.9 621.9,509.3 624.8,514.2 628.2,503.7 631.9,480.6 634.8,489.1 638.4,477.7 641.6,477.0 645.7,489.1 648.9,506.2 651.8,499.6 656.0,502.5 658.4,481.8 662.8,486.7 666.4,495.7 669.6,496.4 673.0,503.0 676.2,491.1 679.8,497.2 683.5,493.5 687.1,495.2 690.1,502.5 693.2,492.1 696.9,497.7 700.5,491.6 704.2,492.8 707.8,496.4 711.0,498.1 713.9,478.9 716.8,493.3 720.0,494.5 723.7,493.5 727.3,494.5 731.0,495.7 735.1,481.1 740.7,479.6 744.4,456.3 748.0,441.7 751.9,434.3 754.8,455.0 758.2,466.5 761.4,464.1 765.0,468.9 768.7,466.5 772.4,463.1 776.0,461.1 782.1,454.3 786.0,463.1 789.4,459.9 795.5,450.7 799.1,455.8 803.5,461.1 806.4,458.7 809.9,448.5 813.0,458.7 816.2,453.3 819.8,450.2 823.5,448.5 826.7,446.5 830.3,450.2 833.7,452.6 836.9,451.4 840.5,466.5 844.2,470.9 850.8,489.1 853.9,481.1 857.6,478.9 861.2,477.7 864.9,475.3 868.0,474.0 870.0,462.3 872.9,452.6 876.1,449.0 878.5,449.4 881.7,461.1 884.6,459.9 889.0,474.5 891.9,472.8 895.1,449.7 898.7,458.7 902.1,446.0 905.8,446.5 909.0,469.7 911.9,474.5 915.8,477.0 918.7,472.1 922.3,486.7 926.0,490.8 929.7,491.6 932.8,494.0 936.2,502.5 940.1,508.6 945.5,495.2 949.9,482.3 953.3,487.4 956.4,480.6 960.1,488.4 963.7,487.4 966.9,493.5 970.3,483.0 974.0,468.4 976.4,470.4 983.2,464.8 988.1,483.5 991.3,477.7 994.7,467.2 997.8,459.9 1001.0,448.2 1005.1,461.1 1008.8,464.8 1012.4,469.2 1015.6,466.5 1019.0,455.5 1022.2,458.7 1025.1,471.6 1028.3,466.5 1031.9,462.3 1035.6,480.6 1038.5,494.0 1042.4,497.2 1045.8,491.6 1049.4,498.1 1052.6,502.5 1055.8,498.9 1059.9,503.7 1063.6,495.2 1066.7,493.3 1069.7,498.9 1072.8,511.0 1076.5,492.8 1079.9,503.7 1083.8,492.1 1086.7,497.2 1089.9,487.4 1094.0,490.4 1097.7,489.1 1100.8,488.4 1103.7,464.8 1107.4,463.6 1111.1,454.6 1114.2,447.7 1117.6,439.7 1120.8,445.3 1124.4,445.3 1128.1,436.3 1131.7,430.2 1135.4,426.3" fill="none" stroke="#2bb5d2" stroke-width="1.15" stroke-linejoin="round"/>
<polygon points="5.4,657.4 5.4,557.0 9.7,559.0 13.4,560.0 16.6,562.4 19.5,569.2 23.1,583.8 25.6,584.3 30.4,588.7 35.3,588.7 39.0,583.3 43.3,579.0 47.5,579.4 59.7,584.3 63.3,579.0 67.0,570.4 70.6,563.6 74.3,561.9 77.9,561.4 81.6,563.1 85.2,562.6 88.9,563.6 95.0,561.9 99.8,557.8 107.1,557.8 114.4,557.0 124.2,557.0 131.5,557.8 142.4,556.3 152.2,557.5 159.5,560.7 166.8,558.7 172.9,558.7 180.2,561.4 187.5,561.9 193.6,562.4 199.7,559.0 204.5,559.0 210.6,557.0 215.5,558.7 220.4,562.4 225.2,565.1 232.5,565.1 238.6,562.4 244.7,560.2 250.8,559.5 255.7,558.3 260.5,559.5 266.6,565.6 272.2,568.7 277.6,562.4 282.4,560.7 290.0,560.7 302.2,560.7 309.5,560.2 314.3,562.6 319.7,564.8 325.3,563.1 331.4,561.4 338.7,560.2 346.0,559.5 350.9,559.0 354.5,560.0 360.6,563.1 367.9,566.8 372.8,565.6 378.9,560.2 392.3,559.5 402.0,558.0 406.9,558.5 411.7,557.8 419.0,561.4 426.4,562.4 436.1,561.4 445.8,560.2 450.7,560.7 458.0,563.6 465.3,561.9 472.6,560.2 477.5,562.4 482.4,562.4 489.7,563.1 497.0,557.0 509.1,556.8 518.9,556.3 527.4,555.3 535.9,555.8 543.2,556.6 548.1,555.6 557.8,554.9 572.4,554.4 580.0,554.9 604.3,554.6 623.8,554.6 632.3,556.1 638.4,559.0 644.5,563.9 649.4,563.1 653.0,565.1 657.9,566.3 662.8,569.7 665.2,563.1 672.5,560.2 687.1,558.3 693.2,555.3 704.2,556.1 709.0,559.0 716.4,564.3 722.4,568.0 726.1,574.1 729.0,583.8 731.4,603.3 734.9,606.5 740.0,602.1 742.6,583.8 745.6,566.8 748.0,560.0 751.7,556.6 757.7,555.3 765.0,555.8 774.8,554.9 794.3,555.1 801.6,557.0 806.4,560.7 812.5,566.8 816.2,565.6 821.1,561.9 827.1,560.2 834.4,561.4 840.5,563.9 845.4,565.6 850.3,563.9 856.4,562.4 861.2,559.5 867.3,556.6 870.0,556.6 877.3,555.1 889.5,554.9 894.3,555.8 904.1,555.1 918.7,555.1 928.4,557.0 938.2,555.3 952.8,555.1 967.4,555.1 971.0,558.3 975.9,563.9 980.8,561.4 985.7,559.0 993.0,558.7 1001.5,555.8 1016.1,556.1 1030.7,556.1 1035.6,560.7 1039.2,571.7 1042.9,580.2 1046.5,587.5 1052.6,585.8 1056.3,586.3 1059.9,581.4 1063.6,570.4 1066.0,568.5 1069.2,569.7 1072.1,568.0 1077.0,573.4 1079.4,572.9 1083.1,575.3 1086.7,577.7 1090.4,586.3 1094.0,591.6 1097.7,602.1 1100.6,626.4 1103.7,596.0 1107.4,582.6 1111.1,570.4 1114.7,563.1 1119.6,558.3 1125.7,556.3 1131.7,555.1 1134.9,554.6 1134.9,657.4" fill="#2962ff"/>
<text x="37.3" y="687.5" font-size="12" fill="#2a2e39" textLength="18.9" lengthAdjust="spacingAndGlyphs">Sep</text>
<text x="187.7" y="687.5" font-size="12" fill="#2a2e39" textLength="19.4" lengthAdjust="spacingAndGlyphs">Nov</text>
<text x="331.1" y="687.5" font-size="12" fill="#2a2e39" textLength="26.4" lengthAdjust="spacingAndGlyphs" font-weight="bold">2021</text>
<text x="471.4" y="687.5" font-size="12" fill="#2a2e39" textLength="20.2" lengthAdjust="spacingAndGlyphs">Mar</text>
<text x="624.7" y="687.5" font-size="12" fill="#2a2e39" textLength="21.1" lengthAdjust="spacingAndGlyphs">May</text>
<text x="774.7" y="687.5" font-size="12" fill="#2a2e39" textLength="15.6" lengthAdjust="spacingAndGlyphs">Jul</text>
<text x="923.8" y="687.5" font-size="12" fill="#2a2e39" textLength="18.6" lengthAdjust="spacingAndGlyphs">Sep</text>
<text x="1070.7" y="687.5" font-size="12" fill="#2a2e39" textLength="19" lengthAdjust="spacingAndGlyphs">Nov</text>
<rect x="5" y="413" width="1217" height="1" fill="#e2e3e9"/>
<rect x="5" y="541" width="1217" height="1" fill="#e2e3e9"/>
<rect x="5" y="669" width="1217" height="1" fill="#e2e3e9"/>
<rect x="5" y="696" width="1218" height="1" fill="#e2e3e9"/>
<rect x="5" y="0" width="1218" height="1" fill="#e2e3e9"/>
<rect x="4.6" y="0" width="1" height="697" fill="#e2e3e9"/>
<rect x="1158" y="0" width="1" height="697" fill="#e2e3e9"/>
<rect x="1222" y="0" width="1" height="697" fill="#e2e3e9"/>
<rect x="535.5" y="365" width="418" height="63.5" fill="#ffffff"/>
<text x="1168.3" y="37.599999999999994" font-size="12" fill="#2a2e39" textLength="41.6" lengthAdjust="spacingAndGlyphs">9.40000</text>
<text x="1168.3" y="89.6" font-size="12" fill="#2a2e39" textLength="41.6" lengthAdjust="spacingAndGlyphs">9.20000</text>
<text x="1168.3" y="192.60000000000002" font-size="12" fill="#2a2e39" textLength="41.6" lengthAdjust="spacingAndGlyphs">8.80000</text>
<text x="1168.3" y="243.60000000000002" font-size="12" fill="#2a2e39" textLength="41.6" lengthAdjust="spacingAndGlyphs">8.60000</text>
<text x="1168.3" y="295.6" font-size="12" fill="#2a2e39" textLength="41.6" lengthAdjust="spacingAndGlyphs">8.40000</text>
<text x="1168.3" y="346.6" font-size="12" fill="#2a2e39" textLength="41.6" lengthAdjust="spacingAndGlyphs">8.20000</text>
<text x="1168.3" y="398.6" font-size="12" fill="#2a2e39" textLength="41.6" lengthAdjust="spacingAndGlyphs">8.00000</text>
<text x="1168.3" y="423.90000000000003" font-size="12" fill="#2a2e39" textLength="29.3" lengthAdjust="spacingAndGlyphs">80.00</text>
<text x="1168.3" y="465.1" font-size="12" fill="#2a2e39" textLength="29.3" lengthAdjust="spacingAndGlyphs">60.00</text>
<text x="1168.3" y="506.0" font-size="12" fill="#2a2e39" textLength="29.3" lengthAdjust="spacingAndGlyphs">40.00</text>
<text x="1168.3" y="610.1999999999999" font-size="12" fill="#2a2e39" textLength="22.9" lengthAdjust="spacingAndGlyphs">0.50</text>
<text x="1168.3" y="661.8" font-size="12" fill="#2a2e39" textLength="22.9" lengthAdjust="spacingAndGlyphs">0.00</text>
<path d="M1158 85 H1215.5 a2 2 0 0 1 2 2 V99.8 a2 2 0 0 1 -2 2 H1158 Z" fill="#311b92"/>
<text x="1168.5" y="97.6" font-size="12" fill="#fff" font-weight="bold" textLength="41.5" lengthAdjust="spacingAndGlyphs">9.16554</text>
<path d="M1158 115.3 H1215.5 a2 2 0 0 1 2 2 V143.8 a2 2 0 0 1 -2 2 H1158 Z" fill="#26a69a"/>
<text x="1168.5" y="127.6" font-size="12" fill="#fff" font-weight="bold" textLength="41.5" lengthAdjust="spacingAndGlyphs">9.04895</text>
<text x="1168.5" y="141.7" font-size="12" fill="#c9e9e5" textLength="28.5" lengthAdjust="spacingAndGlyphs">49:25</text>
<path d="M1158 146.3 H1215.5 a2 2 0 0 1 2 2 V160.9 a2 2 0 0 1 -2 2 H1158 Z" fill="#311b92"/>
<text x="1168.5" y="158.8" font-size="12" fill="#fff" font-weight="bold" textLength="41.5" lengthAdjust="spacingAndGlyphs">8.94776</text>
<path d="M1158 172.4 H1215.5 a2 2 0 0 1 2 2 V187.0 a2 2 0 0 1 -2 2 H1158 Z" fill="#0d3d9e"/>
<text x="1168.5" y="184.9" font-size="12" fill="#fff" font-weight="bold" textLength="41.5" lengthAdjust="spacingAndGlyphs">8.82735</text>
<path d="M1158 273.3 H1215.5 a2 2 0 0 1 2 2 V287.90000000000003 a2 2 0 0 1 -2 2 H1158 Z" fill="#0d3d9e"/>
<text x="1168.5" y="285.8" font-size="12" fill="#fff" font-weight="bold" textLength="41.5" lengthAdjust="spacingAndGlyphs">8.43638</text>
<path d="M1158 419.4 H1201.8 a2 2 0 0 1 2 2 V433.79999999999995 a2 2 0 0 1 -2 2 H1158 Z" fill="#22bdd3"/>
<text x="1168.5" y="431.8" font-size="12" fill="#131722" textLength="29.3" lengthAdjust="spacingAndGlyphs">76.27</text>
<path d="M1158 547.2 H1195.8 a2 2 0 0 1 2 2 V562.0 a2 2 0 0 1 -2 2 H1158 Z" fill="#2962ff"/>
<text x="1168.5" y="559.8" font-size="12" fill="#fff" font-weight="bold" textLength="22.8" lengthAdjust="spacingAndGlyphs">0.98</text>
<rect x="1176.7" y="6.6" width="26.6" height="17.6" rx="4" fill="#fff" stroke="#dfe1e8" stroke-width="1"/>
<text x="1180.6" y="19.9" font-size="12" fill="#2a2e39" textLength="19.2" lengthAdjust="spacingAndGlyphs">SEK</text>
<path d="M5.1 709.3 H13.1 V718.7 H9 V712.8 H5.1 Z M20 709.3 H24.4 L21.2 718.7 H16.8 Z" fill="#1e222d"/><circle cx="16.1" cy="710.9" r="1.75" fill="#1e222d"/>
<text x="28.3" y="718.5" font-size="12.4" fill="#2a2e39" textLength="69.6" lengthAdjust="spacingAndGlyphs">TradingView</text>
<rect x="0" y="365.2" width="402.6" height="84.5" fill="#17232c"/>
<path d="M54.2 394.6 A20 16.6 0 1 0 54.2 419.4" fill="none" stroke="#ffffff" stroke-width="5.8" stroke-linecap="round" stroke-linejoin="round"/>
<path d="M70.7 390.6 V423.4" fill="none" stroke="#ffffff" stroke-width="5.8" stroke-linecap="round" stroke-linejoin="round"/>
<path d="M85.2 390.6 H116.8 M101 390.6 V423.4" fill="none" stroke="#ffffff" stroke-width="5.8" stroke-linecap="round" stroke-linejoin="round"/>
<path d="M126.1 390.6 L142.2 409.4 L158.2 390.6 M142.2 409.4 V423.4" fill="none" stroke="#ffffff" stroke-width="5.8" stroke-linecap="round" stroke-linejoin="round"/>
<path d="M191.5 390.6 V423.4" fill="none" stroke="#f7ec13" stroke-width="5.8" stroke-linecap="round" stroke-linejoin="round"/>
<path d="M209.8 423.4 V390.6 L241.4 423.4 V390.6" fill="none" stroke="#f7ec13" stroke-width="5.8" stroke-linecap="round" stroke-linejoin="round"/>
<path d="M260.6 390.6 V423.4 H275 A16.2 16.4 0 0 0 275 390.6 Z" fill="none" stroke="#f7ec13" stroke-width="5.8" stroke-linecap="round" stroke-linejoin="round"/>
<path d="M333.2 390.6 H307.9 V423.4 H333.2 M307.9 407.0 H326.5" fill="none" stroke="#f7ec13" stroke-width="5.8" stroke-linecap="round" stroke-linejoin="round"/>
<path d="M348.6 390.6 L378 423.4 M378 390.6 L348.6 423.4" fill="none" stroke="#f7ec13" stroke-width="5.8" stroke-linecap="round" stroke-linejoin="round"/>
<text x="13.2" y="18.8" font-size="12.2" fill="#2a2e39" textLength="42.6" lengthAdjust="spacingAndGlyphs">USDSEK,</text><text x="61.9" y="18.8" font-size="12.2" fill="#2a2e39" textLength="16.2" lengthAdjust="spacingAndGlyphs">1D,</text><text x="83.2" y="18.8" font-size="12.2" fill="#2a2e39" textLength="59.9" lengthAdjust="spacingAndGlyphs">FOREX.com</text><text x="151.8" y="18.8" font-size="12.2" fill="#2a2e39" textLength="7.5" lengthAdjust="spacingAndGlyphs">O</text><text x="160" y="18.8" font-size="12.2" fill="#26a69a" textLength="41.5" lengthAdjust="spacingAndGlyphs">9.00097</text><text x="209" y="18.8" font-size="12.2" fill="#2a2e39" textLength="7.0" lengthAdjust="spacingAndGlyphs">H</text><text x="216.7" y="18.8" font-size="12.2" fill="#26a69a" textLength="41.8" lengthAdjust="spacingAndGlyphs">9.05438</text><text x="266" y="18.8" font-size="12.2" fill="#2a2e39" textLength="5.0" lengthAdjust="spacingAndGlyphs">L</text><text x="271.7" y="18.8" font-size="12.2" fill="#26a69a" textLength="42.3" lengthAdjust="spacingAndGlyphs">8.97170</text><text x="321.5" y="18.8" font-size="12.2" fill="#2a2e39" textLength="6.8" lengthAdjust="spacingAndGlyphs">C</text><text x="328.7" y="18.8" font-size="12.2" fill="#26a69a" textLength="41.8" lengthAdjust="spacingAndGlyphs">9.04895</text><text x="378.5" y="18.8" font-size="12.2" fill="#26a69a" textLength="47.5" lengthAdjust="spacingAndGlyphs">+0.04798</text><text x="431" y="18.8" font-size="12.2" fill="#26a69a" textLength="44.0" lengthAdjust="spacingAndGlyphs">(+0.53%)</text>
</svg>
</body></html>
